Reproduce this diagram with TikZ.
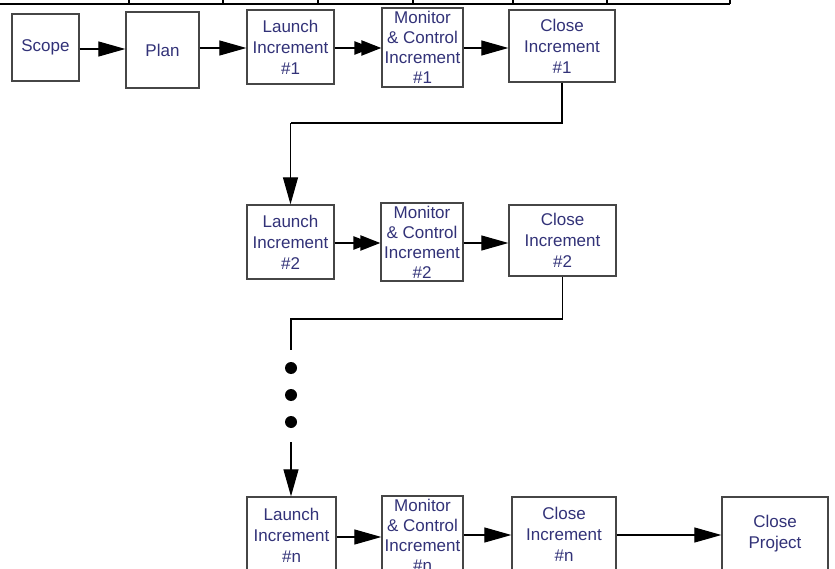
\documentclass[tikz,border=0pt]{standalone}
\usepackage{fontspec}
\setmainfont{Liberation Sans}
\usetikzlibrary{arrows.meta, positioning}
\definecolor{boxtext}{RGB}{50,50,120}
\definecolor{boxline}{RGB}{70,70,70}
\tikzset{
    phase/.style={
        rectangle, draw=boxline, line width=1.3pt, text=boxtext, align=center, inner sep=0pt,
        font=\fontsize{17}{21}\selectfont
    },
    mcphase/.style={
        phase, font=\fontsize{17}{20}\selectfont
    },
    arrow/.style={
        line width=1.2pt, -{Triangle[length=27pt, width=15pt]}
    },
    heavyarrow/.style={
        line width=2.4pt, -{Triangle[length=18pt, width=13pt, sep=-11pt]Triangle[length=20pt, width=15pt]}
    },
    link/.style={
        line width=1.2pt
    }
}

\begin{document}
\begin{tikzpicture}[x=1pt, y=-1pt]
        \fill[white] (0,0) rectangle (835,569);
        \clip (0,0) rectangle (835,569);

        % Table edge at the top
        \draw[line width=1.2pt] (0,4) -- (730,4);
        \foreach \x in {129,223,318,413,513,607,730}
            \draw[line width=1.2pt] (\x,0) -- (\x,4);

        % Nodes
        \node (scope) [phase, minimum width=67, minimum height=67] at (45.5,47.5) {Scope};
        \node (plan) [phase, minimum width=73, minimum height=76] at (162.5,50) {Plan};
        \node (launch1) [phase, minimum width=87, minimum height=74] at (290.5,47) {Launch\\Increment\\\#1};
        \node (monitor1) [mcphase, minimum width=81, minimum height=79] at (422.5,47.5) {Monitor\\\& Control\\Increment\\\#1};
        \node (close1) [phase, minimum width=106, minimum height=72] at (562,46) {Close\\Increment\\\#1};

        \node (launch2) [phase, minimum width=87, minimum height=74] at (290.5,242) {Launch\\Increment\\\#2};
        \node (monitor2) [mcphase, minimum width=82, minimum height=78] at (422,242) {Monitor\\\& Control\\Increment\\\#2};
        \node (close2) [phase, minimum width=107, minimum height=71] at (562.5,240.5) {Close\\Increment\\\#2};

        \node (launchn) [phase, minimum width=89, minimum height=76] at (291.5,535) {Launch\\Increment\\\#n};
        \node (monitorn) [mcphase, minimum width=81, minimum height=78] at (422.5,535) {Monitor\\\& Control\\Increment\\\#n};
        \node (closen) [phase, minimum width=104, minimum height=74] at (564,534) {Close\\Increment\\\#n};
        \node (project) [phase, minimum width=106, minimum height=74] at (775,534) {Close\\Project};

        % Turning points and dots
        \coordinate (turn1) at (290.5,123);
        \coordinate (turn2) at (291,319);
        \coordinate (gapstart) at (291,350);
        \coordinate (gapend) at (291,442);
        \foreach \y [count=\i] in {368,395,422}
            \fill (291,\y) circle (6) coordinate (dot\i);

        % Arrows
        \draw [arrow] (scope.east |- 0,49) -- (plan.west |- 0,49);
        \draw [arrow] (plan.east |- 0,48) -- (launch1.west |- 0,48);
        \draw [heavyarrow] (launch1.east |- 0,48) -- (monitor1.west |- 0,48);
        \draw [arrow] (monitor1.east |- 0,48) -- (close1.west |- 0,48);
        \draw [link] (close1.south) |- (turn1);
        \draw [arrow] (turn1) -- (launch2.north);

        \draw [heavyarrow] (launch2.east |- 0,243) -- (monitor2.west |- 0,243);
        \draw [arrow] (monitor2.east |- 0,243) -- (close2.west |- 0,243);
        \draw [link] (close2.south) |- (turn2) -- (gapstart);
        \draw [arrow] (gapend) -- (launchn.north -| gapend);

        \draw [arrow] (launchn.east |- 0,537) -- (monitorn.west |- 0,537);
        \draw [arrow] (monitorn.east |- 0,535) -- (closen.west |- 0,535);
        \draw [arrow] (closen.east |- 0,535) -- (project.west |- 0,535);
    \end{tikzpicture}
\end{document}
